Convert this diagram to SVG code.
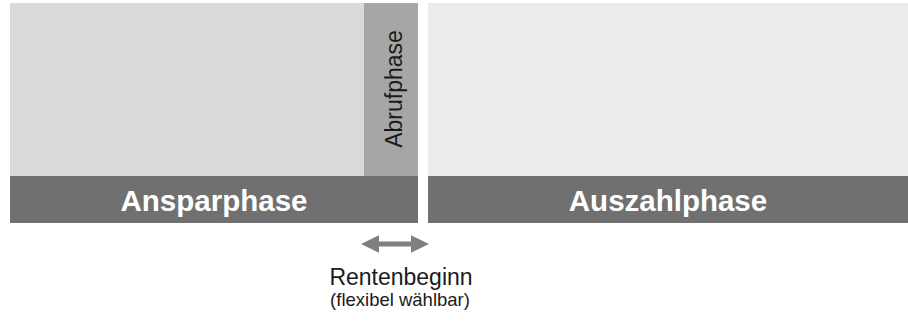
<svg xmlns="http://www.w3.org/2000/svg" width="908" height="322" viewBox="0 0 908 322">
<defs>
<style>
.bar{fill:#707070}
.bar-label{font-family:"Liberation Sans",Arial,sans-serif;font-weight:bold;font-size:29.5px;fill:#ffffff;text-anchor:middle}
.lbl{font-family:"Liberation Sans",Arial,sans-serif;fill:#1a1a1a;text-anchor:middle}
</style>
</defs>
<rect width="908" height="322" fill="#ffffff"/>
<g id="ansparphase">
<rect x="10" y="3" width="408" height="173" fill="#d9d9d9"/>
<rect class="bar" x="10" y="176" width="408" height="47"/>
<text class="bar-label" x="214" y="211">Ansparphase</text>
</g>
<g id="abrufphase">
<rect x="364" y="3" width="54" height="173" fill="#a6a6a6"/>
<text class="lbl" font-size="23" transform="translate(401.5,89) rotate(-90)" x="0" y="0">Abrufphase</text>
</g>
<g id="auszahlphase">
<rect x="428" y="3" width="480" height="173" fill="#ebebeb"/>
<rect class="bar" x="428" y="176" width="480" height="47"/>
<text class="bar-label" x="668" y="211">Auszahlphase</text>
</g>
<g id="connectors">
<path d="M361,244 L379,235.3 L379,241.5 L411,241.5 L411,235.3 L429,244 L411,252.7 L411,246.5 L379,246.5 L379,252.7 Z" fill="#7f7f7f"/>
</g>
<g id="rentenbeginn">
<text class="lbl" font-size="23" x="401" y="285">Rentenbeginn</text>
<text class="lbl" font-size="18.5" x="400" y="306">(flexibel wählbar)</text>
</g>
</svg>
